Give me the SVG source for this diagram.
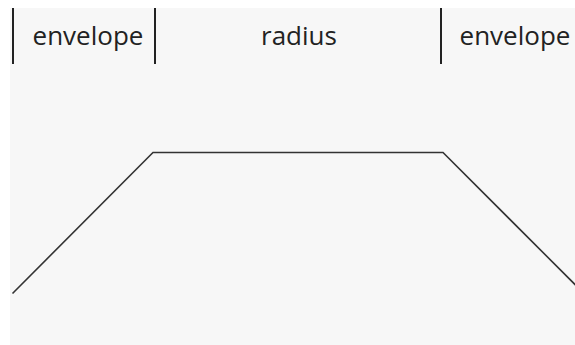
<svg xmlns="http://www.w3.org/2000/svg" width="575" height="345" viewBox="0 0 575 345">
<style>
.lbl{font-family:"Open Sans","Liberation Sans",sans-serif;font-size:26px;fill:#222;text-anchor:middle}
.div{stroke:#222;stroke-width:2}
.curve{fill:none;stroke:#333;stroke-width:1.6}
</style>
<rect width="575" height="345" fill="#ffffff"/>
<rect x="10" y="8" width="565" height="337" fill="#f7f7f7"/>
<g id="labels">
<g id="envelope-left"><text class="lbl" x="88" y="45">envelope</text></g>
<g id="radius"><text class="lbl" x="299" y="45">radius</text></g>
<g id="envelope-right"><text class="lbl" x="515" y="45">envelope</text></g>
</g>
<g id="connectors">
<line class="div" x1="13" y1="8" x2="13" y2="64"/>
<line class="div" x1="155" y1="8" x2="155" y2="64"/>
<line class="div" x1="441" y1="8" x2="441" y2="64"/>
<polyline class="curve" points="12.5,293.5 153,152.5 443,152.5 577,286.5"/>
</g>
</svg>
